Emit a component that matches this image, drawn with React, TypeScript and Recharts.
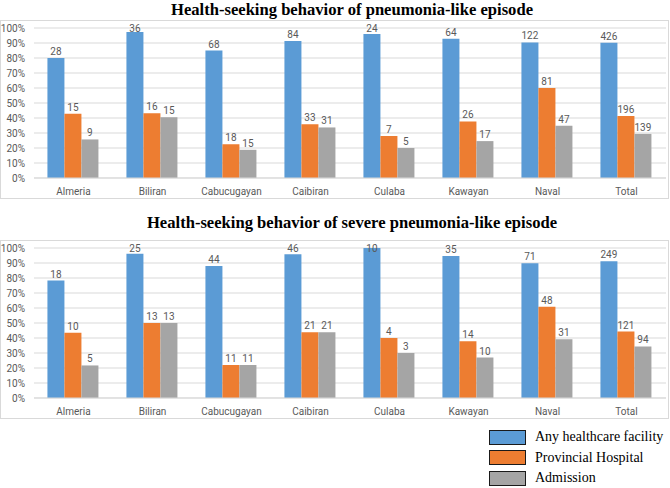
import { BarChart, Bar, XAxis, YAxis, CartesianGrid, LabelList } from 'recharts'

const categories = ['Almeria', 'Biliran', 'Cabucugayan', 'Caibiran', 'Culaba', 'Kawayan', 'Naval', 'Total']
const seriesNames = ['Any healthcare facility', 'Provincial Hospital', 'Admission']
const seriesColors = ['#5B9BD5', '#ED7D31', '#A5A5A5']
const yTicks = [0, 10, 20, 30, 40, 50, 60, 70, 80, 90, 100]

// pneumonia-like episode, % of episodes (bar height) and counts (labels)
const pneumAny = [80.0, 97.3, 85.0, 91.3, 96.0, 92.8, 90.4, 90.1]
const pneumProv = [42.9, 43.2, 22.5, 35.9, 28.0, 37.7, 60.0, 41.4]
const pneumAdm = [25.7, 40.5, 18.8, 33.7, 20.0, 24.6, 34.8, 29.4]
const pneumAnyN = [28, 36, 68, 84, 24, 64, 122, 426]
const pneumProvN = [15, 16, 18, 33, 7, 26, 81, 196]
const pneumAdmN = [9, 15, 15, 31, 5, 17, 47, 139]

// severe pneumonia-like episode
const sevAny = [78.3, 96.2, 88.0, 95.8, 100, 94.6, 89.9, 91.2]
const sevProv = [43.5, 50.0, 22.0, 43.8, 40.0, 37.8, 60.8, 44.3]
const sevAdm = [21.7, 50.0, 22.0, 43.8, 30.0, 27.0, 39.2, 34.4]
const sevAnyN = [18, 25, 44, 46, 10, 35, 71, 249]
const sevProvN = [10, 13, 11, 21, 4, 14, 48, 121]
const sevAdmN = [5, 13, 11, 21, 3, 10, 31, 94]

const PLOT_TOP = 8
const FONT = 'Roboto, "Liberation Sans", sans-serif'

function buildRows(vals: number[][], counts: number[][]) {
  return categories.map((name, i) => ({
    name,
    any: vals[0][i],
    prov: vals[1][i],
    adm: vals[2][i],
    anyN: counts[0][i],
    provN: counts[1][i],
    admN: counts[2][i],
  }))
}

const pneumRows = buildRows([pneumAny, pneumProv, pneumAdm], [pneumAnyN, pneumProvN, pneumAdmN])
const sevRows = buildRows([sevAny, sevProv, sevAdm], [sevAnyN, sevProvN, sevAdmN])

function CountLabel(props: any) {
  const vb = props.viewBox ?? props
  const { x, y, width } = vb
  // excel keeps labels inside the plot area
  const by = Math.max(y - 3, PLOT_TOP + 3.5)
  return (
    <text x={x + width / 2} y={by} textAnchor="middle" fontSize={10} fontFamily={FONT} fill="#595959">
      {props.value}
    </text>
  )
}

function EpisodeChart({ data }: { data: any[] }) {
  const keys = ['any', 'prov', 'adm']
  return (
    <BarChart
      width={670}
      height={180}
      data={data}
      margin={{ top: PLOT_TOP, right: 4, left: 0, bottom: 0 }}
      barCategoryGap="17%"
      barGap={0}
    >
      <CartesianGrid vertical={false} stroke="#d9d9d9" />
      <XAxis
        dataKey="name"
        height={22}
        tickLine={false}
        axisLine={{ stroke: '#d9d9d9' }}
        tickMargin={4}
        tick={{ fontSize: 10, fill: '#595959', fontFamily: FONT }}
        interval={0}
      />
      <YAxis
        width={34}
        domain={[0, 100]}
        ticks={yTicks}
        interval={0}
        axisLine={false}
        tickLine={false}
        tickMargin={3}
        tick={{ fontSize: 10, fill: '#595959', fontFamily: FONT }}
        tickFormatter={(v) => `${v}%`}
      />
      {keys.map((k, i) => (
        <Bar key={k} dataKey={k} name={seriesNames[i]} fill={seriesColors[i]} isAnimationActive={false}>
          <LabelList dataKey={`${k}N`} content={CountLabel} />
        </Bar>
      ))}
    </BarChart>
  )
}

const titleStyle: any = {
  position: 'absolute',
  left: 34,
  width: 636,
  textAlign: 'center',
  fontFamily: '"Liberation Serif", "Times New Roman", serif',
  fontWeight: 'bold',
  fontSize: 16.6,
  lineHeight: 'normal',
  color: '#000',
  whiteSpace: 'nowrap',
}

const panelStyle: any = {
  position: 'absolute',
  left: 0,
  width: 669,
  height: 179,
  boxSizing: 'border-box',
  border: '1px solid #d9d9d9',
}

export default function App() {
  return (
    <div style={{ position: 'absolute', left: 0, top: 0, width: 670, height: 488, background: '#fff', overflow: 'hidden' }}>
      <div style={{ ...titleStyle, top: 0 }}>Health-seeking behavior of pneumonia-like episode</div>
      <div style={{ ...panelStyle, top: 20 }} />
      <div style={{ position: 'absolute', left: 0, top: 20 }}>
        <EpisodeChart data={pneumRows} />
      </div>

      <div style={{ ...titleStyle, top: 213 }}>Health-seeking behavior of severe pneumonia-like episode</div>
      <div style={{ ...panelStyle, top: 240 }} />
      <div style={{ position: 'absolute', left: 0, top: 240 }}>
        <EpisodeChart data={sevRows} />
      </div>

      <div style={{ position: 'absolute', left: 489, top: 427 }}>
        {seriesNames.map((n, i) => (
          <div key={n} style={{ display: 'flex', alignItems: 'center', height: 20.5 }}>
            <div
              style={{
                width: 37,
                height: 15,
                boxSizing: 'border-box',
                background: seriesColors[i],
                border: '1px solid #1a1a1a',
              }}
            />
            <span
              style={{
                marginLeft: 9,
                fontFamily: '"Liberation Serif", "Times New Roman", serif',
                fontSize: 14,
                color: '#000',
              }}
            >
              {n}
            </span>
          </div>
        ))}
      </div>
    </div>
  )
}
